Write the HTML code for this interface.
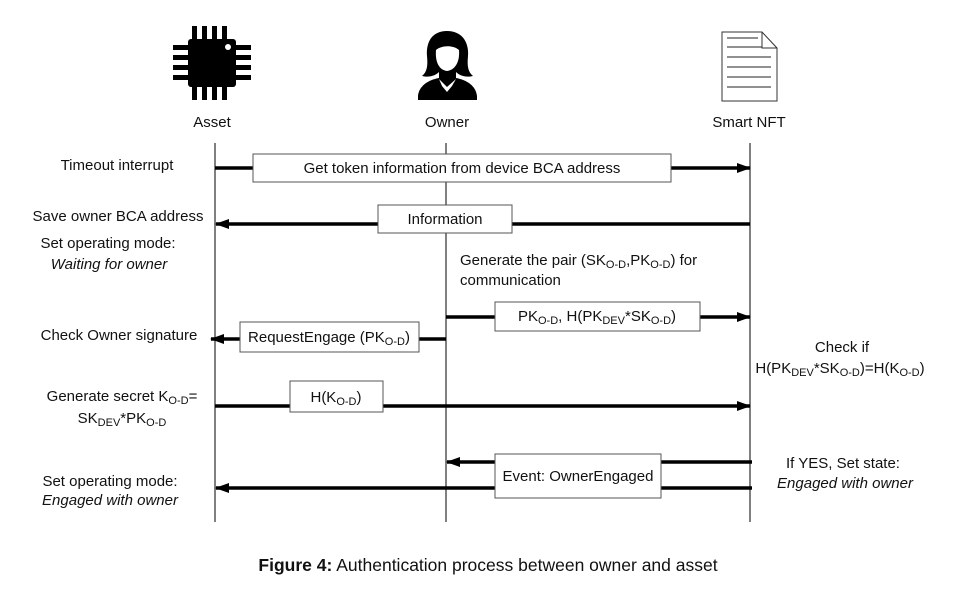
<!DOCTYPE html>
<html><head><meta charset="utf-8"><style>
body{margin:0;background:#fff}
svg text{font-family:"Liberation Sans",sans-serif;font-size:15px;fill:#111}
</style></head><body>
<svg width="965" height="598" viewBox="0 0 965 598" xmlns="http://www.w3.org/2000/svg">
<defs>
<marker id="ah" markerWidth="14" markerHeight="10" refX="13" refY="5" orient="auto-start-reverse" markerUnits="userSpaceOnUse"><path d="M0,0 L14,5 L0,10 z" fill="#000"/></marker>
</defs>
<!-- chip -->
<rect x="188" y="39" width="48" height="48" rx="3" fill="#000"/>
<circle cx="228" cy="47" r="3" fill="#fff"/>
<g fill="#000">
<rect x="192" y="26" width="5" height="13"/><rect x="202" y="26" width="5" height="13"/><rect x="212" y="26" width="5" height="13"/><rect x="222" y="26" width="5" height="13"/>
<rect x="192" y="87" width="5" height="13"/><rect x="202" y="87" width="5" height="13"/><rect x="212" y="87" width="5" height="13"/><rect x="222" y="87" width="5" height="13"/>
<rect x="173" y="45" width="15" height="5"/><rect x="173" y="55" width="15" height="5"/><rect x="173" y="65" width="15" height="5"/><rect x="173" y="75" width="15" height="5"/>
<rect x="236" y="45" width="15" height="5"/><rect x="236" y="55" width="15" height="5"/><rect x="236" y="65" width="15" height="5"/><rect x="236" y="75" width="15" height="5"/>
</g>
<!-- person -->
<path d="M447,31 C432,31 426,42 427,56 C428,66 427,72 422,76 C430,78 436,75 439,72 L439,78 C428,80 419,86 418,96 L418,100 L477,100 L477,96 C476,86 467,80 456,78 L456,72 C459,75 465,78 473,76 C468,72 467,66 468,56 C469,42 462,31 447,31 Z" fill="#000"/>
<path d="M436,50 C440,46 452,44 459,50 C460,62 455,70 447,71 C439,70 435,62 436,50 Z" fill="#fff"/>
<path d="M439,79 L447,87 L456,79 L452,86 L447,92 L442,86 Z" fill="#fff"/>
<!-- doc -->
<path d="M722,32 L762,32 L777,48 L777,101 L722,101 Z" fill="#fff" stroke="#333" stroke-width="1"/>
<path d="M762,32 L762,48 L777,48" fill="none" stroke="#333"/>
<g stroke="#222" stroke-width="1"><line x1="727" y1="38" x2="758" y2="38"/><line x1="727" y1="47" x2="762" y2="47"/><line x1="727" y1="57" x2="771" y2="57"/><line x1="727" y1="67" x2="771" y2="67"/><line x1="727" y1="77" x2="771" y2="77"/><line x1="727" y1="87" x2="771" y2="87"/></g>
<text x="212" y="127" text-anchor="middle">Asset</text>
<text x="447" y="127" text-anchor="middle">Owner</text>
<text x="749" y="127" text-anchor="middle">Smart NFT</text>
<g stroke="#000" stroke-width="1"><line x1="215" y1="143" x2="215" y2="522"/><line x1="446" y1="143" x2="446" y2="522"/><line x1="750" y1="143" x2="750" y2="522"/></g>
<g stroke="#000" stroke-width="3.5" fill="none">
<line x1="215" y1="168" x2="750" y2="168" marker-end="url(#ah)"/>
<line x1="750" y1="224" x2="216" y2="224" marker-end="url(#ah)"/>
<line x1="446" y1="317" x2="750" y2="317" marker-end="url(#ah)"/>
<line x1="446" y1="339" x2="211" y2="339" marker-end="url(#ah)"/>
<line x1="215" y1="406" x2="750" y2="406" marker-end="url(#ah)"/>
<line x1="752" y1="462" x2="447" y2="462" marker-end="url(#ah)"/>
<line x1="752" y1="488" x2="216" y2="488" marker-end="url(#ah)"/>
</g>
<g fill="#fff" stroke="#555" stroke-width="1">
<rect x="253" y="154" width="418" height="28"/>
<rect x="378" y="205" width="134" height="28"/>
<rect x="495" y="302" width="205" height="29"/>
<rect x="240" y="322" width="179" height="30"/>
<rect x="290" y="381" width="93" height="31"/>
<rect x="495" y="454" width="166" height="44"/>
</g>
<text x="462" y="173" text-anchor="middle">Get token information from device BCA address</text>
<text x="445" y="224" text-anchor="middle">Information</text>
<text x="597" y="321" text-anchor="middle">PK<tspan font-size="11" dy="3">O-D</tspan><tspan dy="-3">, H(PK</tspan><tspan font-size="11" dy="3">DEV</tspan><tspan dy="-3">*SK</tspan><tspan font-size="11" dy="3">O-D</tspan><tspan dy="-3">)</tspan></text>
<text x="329" y="342" text-anchor="middle">RequestEngage (PK<tspan font-size="11" dy="3">O-D</tspan><tspan dy="-3">)</tspan></text>
<text x="336" y="402" text-anchor="middle">H(K<tspan font-size="11" dy="3">O-D</tspan><tspan dy="-3">)</tspan></text>
<text x="578" y="481" text-anchor="middle">Event: OwnerEngaged</text>
<text x="117" y="170" text-anchor="middle">Timeout interrupt</text>
<text x="118" y="221" text-anchor="middle">Save owner BCA address</text>
<text x="108" y="248" text-anchor="middle">Set operating mode:</text>
<text x="109" y="269" text-anchor="middle" font-style="italic">Waiting for owner</text>
<text x="119" y="340" text-anchor="middle">Check Owner signature</text>
<text x="122" y="401" text-anchor="middle">Generate secret K<tspan font-size="11" dy="3">O-D</tspan><tspan dy="-3">=</tspan></text>
<text x="122" y="423" text-anchor="middle">SK<tspan font-size="11" dy="3">DEV</tspan><tspan dy="-3">*PK</tspan><tspan font-size="11" dy="3">O-D</tspan></text>
<text x="110" y="486" text-anchor="middle">Set operating mode:</text>
<text x="110" y="505" text-anchor="middle" font-style="italic">Engaged with owner</text>
<text x="460" y="265">Generate the pair (SK<tspan font-size="11" dy="3">O-D</tspan><tspan dy="-3">,PK</tspan><tspan font-size="11" dy="3">O-D</tspan><tspan dy="-3">) for</tspan></text>
<text x="460" y="285">communication</text>
<text x="842" y="352" text-anchor="middle">Check if</text>
<text x="840" y="373" text-anchor="middle">H(PK<tspan font-size="11" dy="3">DEV</tspan><tspan dy="-3">*SK</tspan><tspan font-size="11" dy="3">O-D</tspan><tspan dy="-3">)=H(K</tspan><tspan font-size="11" dy="3">O-D</tspan><tspan dy="-3">)</tspan></text>
<text x="843" y="468" text-anchor="middle">If YES, Set state:</text>
<text x="845" y="488" text-anchor="middle" font-style="italic">Engaged with owner</text>
<text x="488" y="571" text-anchor="middle" style="font-size:17.5px"><tspan font-weight="bold">Figure 4:</tspan> Authentication process between owner and asset</text>
</svg>
</body></html>
